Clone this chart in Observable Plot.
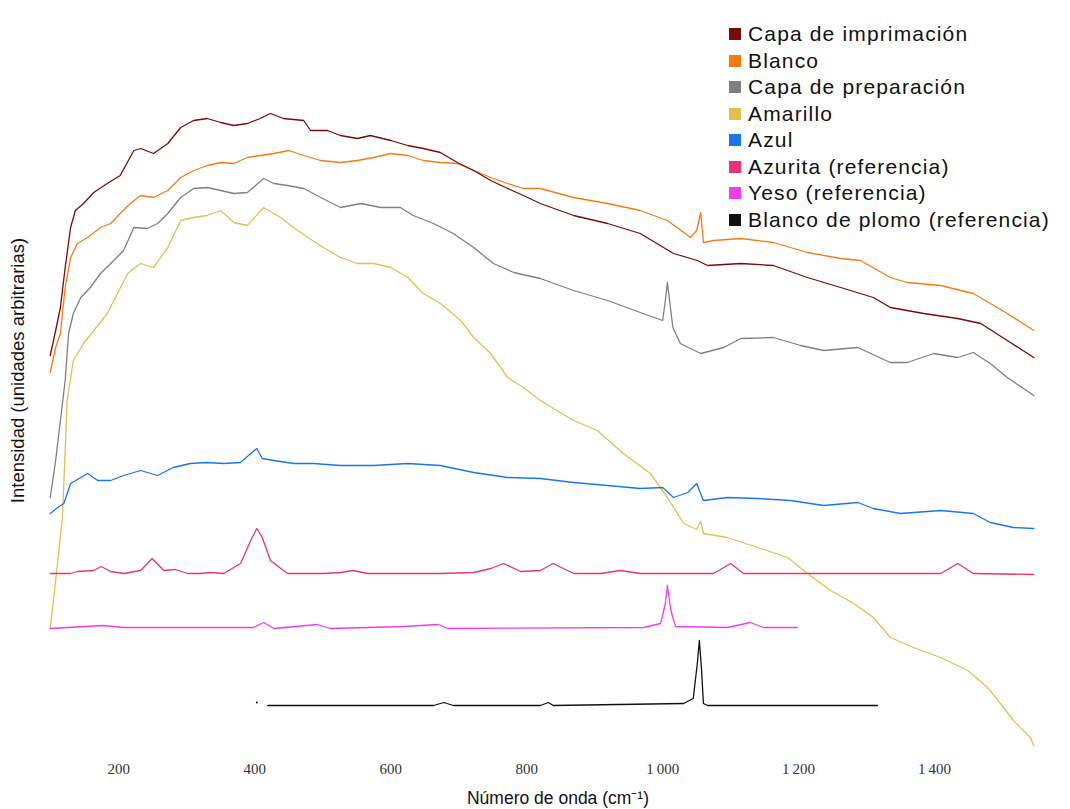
<!DOCTYPE html>
<html>
<head>
<meta charset="utf-8">
<script src="https://cdn.jsdelivr.net/npm/d3@7"></script>
<script src="https://cdn.jsdelivr.net/npm/@observablehq/plot@0.6"></script>
<style>
  html, body { margin: 0; padding: 0; background: #fff; }
  #wrap { position: relative; width: 1070px; height: 809px; }
  #legend { position: absolute; left: 729px; top: 21px; font-family: "Liberation Sans", Arial, sans-serif; font-size: 21px; letter-spacing: 1.15px; color: #111; }
  #legend .row { height: 26.5px; display: flex; align-items: center; white-space: nowrap; }
  #legend .sw { width: 12px; height: 12px; margin-right: 7px; display: inline-block; }
</style>
</head>
<body>
<div id="wrap"><div id="legend"></div></div>
<script>
// ---- data (wavenumber cm-1, arbitrary intensity) ----
const xTicks = [200, 400, 600, 800, 1000, 1200, 1400];

const seriesNames = [
  "Capa de imprimación", "Blanco", "Capa de preparación", "Amarillo",
  "Azul", "Azurita (referencia)", "Yeso (referencia)", "Blanco de plomo (referencia)"
];
const seriesColors = ["#7b0a0a", "#f57c14", "#808080", "#e3c04d", "#1877f0", "#e8337a", "#f23cf0", "#111111"];

const capaImprimacion = [[99,400],[107,425],[114,448],[121,488],[129,528],[136,545],[148,552],[163,563],[183,572],[202,580],[222,605],[232,607],[251,602],[272,612],[291,628],[310,635],[330,637],[350,633],[369,630],[389,632],[408,637],[423,642],[442,637],[472,635],[482,625],[507,625],[526,620],[551,617],[570,620],[600,615],[625,610],[648,607],[673,603],[698,593],[722,585],[747,575],[772,567],[795,560],[820,552],[869,540],[919,532],[967,522],[1016,502],[1051,495],[1066,490],[1115,492],[1163,490],[1213,478],[1262,468],[1310,458],[1335,448],[1384,442],[1434,437],[1468,432],[1507,415],[1546,398]];

const blanco = [[99,383],[107,408],[114,422],[121,468],[129,498],[139,512],[154,518],[173,528],[188,532],[202,542],[217,552],[232,560],[251,558],[272,565],[291,578],[310,585],[330,590],[350,593],[369,592],[389,598],[408,600],[428,602],[450,605],[472,600],[497,595],[526,593],[551,595],[575,598],[600,602],[625,600],[648,595],[673,593],[698,592],[722,585],[747,578],[772,572],[795,567],[820,567],[869,558],[919,552],[967,545],[1007,535],[1041,518],[1050,525],[1056,543],[1060,513],[1075,515],[1115,517],[1163,513],[1213,503],[1262,497],[1291,495],[1335,478],[1360,473],[1409,470],[1457,462],[1482,452],[1507,442],[1546,425]];

const capaPreparacion = [[99,258],[107,295],[114,335],[121,375],[126,422],[133,442],[144,458],[158,468],[173,482],[188,492],[207,505],[222,528],[242,527],[257,532],[272,542],[291,558],[310,567],[330,568],[350,565],[369,562],[389,563],[413,577],[428,572],[448,570],[472,567],[497,558],[526,548],[556,552],[585,548],[614,548],[633,540],[663,532],[692,522],[722,508],[751,492],[781,483],[820,477],[869,465],[919,455],[967,443],[1000,435],[1004,455],[1007,473],[1012,445],[1015,428],[1026,412],[1056,402],[1090,408],[1115,417],[1163,418],[1203,410],[1237,405],[1287,408],[1335,393],[1360,393],[1399,402],[1434,398],[1457,403],[1482,392],[1507,378],[1546,360]];

const amarillo = [[99,127],[107,175],[117,238],[124,355],[133,395],[148,412],[163,425],[183,442],[198,462],[213,482],[232,492],[251,488],[272,508],[291,535],[310,538],[330,540],[350,545],[369,533],[389,530],[413,548],[438,538],[457,528],[478,518],[501,508],[526,498],[551,492],[575,492],[600,488],[625,478],[648,462],[673,452],[703,435],[722,418],[747,402],[772,378],[795,368],[820,355],[869,335],[904,325],[942,302],[982,282],[1007,258],[1031,232],[1050,226],[1056,234],[1060,222],[1095,218],[1140,208],[1184,198],[1213,182],[1247,165],[1281,152],[1310,138],[1335,118],[1369,108],[1409,98],[1449,85],[1478,68],[1497,52],[1516,35],[1541,18],[1546,10]];

const azul = [[99,242],[110,248],[119,252],[129,272],[144,278],[154,282],[169,275],[188,275],[207,280],[232,285],[257,280],[280,288],[305,292],[330,293],[354,292],[379,293],[394,302],[403,307],[411,297],[428,295],[457,292],[486,292],[526,290],[575,290],[625,292],[673,290],[722,283],[772,278],[820,277],[869,273],[919,270],[967,267],[1000,268],[1016,258],[1037,263],[1050,272],[1060,255],[1095,258],[1140,257],[1188,255],[1237,250],[1287,253],[1310,247],[1350,242],[1409,245],[1457,242],[1482,233],[1516,228],[1546,227]];

const azurita = [[99,182],[129,182],[139,184],[163,185],[174,189],[188,184],[207,182],[232,185],[249,197],[266,185],[283,186],[301,182],[320,182],[335,183],[354,182],[379,192],[394,215],[403,227],[411,218],[423,195],[448,182],[501,182],[526,183],[544,185],[566,182],[673,182],[722,183],[747,187],[766,192],[791,184],[820,185],[839,192],[869,182],[909,182],[938,185],[967,182],[1075,182],[1100,192],[1119,182],[1409,182],[1434,192],[1457,182],[1546,181]];

const yeso = [[99,127],[124,128],[177,130],[207,128],[398,128],[413,133],[428,127],[492,131],[511,127],[619,129],[670,131],[684,127],[972,128],[997,132],[1004,152],[1007,170],[1012,145],[1019,129],[1095,128],[1129,133],[1148,128],[1198,128]];

const blancoPlomo = [[419,50],[663,50],[678,53],[692,50],[820,50],[832,53],[839,50],[1031,52],[1045,57],[1051,92],[1054,115],[1057,88],[1060,52],[1066,50],[1316,50]];
const blancoPlomoDot = [[403,53]];

const allSeries = [capaImprimacion, blanco, capaPreparacion, amarillo, azul, azurita, yeso, blancoPlomo];
const drawOrder = [3, 6, 5, 7, 4, 2, 1, 0];

const fmt = d => d >= 1000 ? d3.format(",")(d).replace(",", "\u2009") : String(d);

const plot = Plot.plot({
  width: 1070,
  height: 809,
  marginLeft: 47,
  marginRight: 34,
  marginTop: 35,
  marginBottom: 54,
  style: { fontFamily: "Liberation Sans, Arial, sans-serif", background: "#fff" },
  x: { domain: [95, 1550], axis: null },
  y: { domain: [0, 720], axis: null },
  marks: [
    ...drawOrder.map(i => Plot.line(allSeries[i], {
      x: d => d[0], y: d => d[1], stroke: seriesColors[i], strokeWidth: 1.3, curve: "linear"
    })),
    Plot.dot(blancoPlomoDot, { x: d => d[0], y: d => d[1], r: 1, fill: "#111" }),
    Plot.axisX({
      ticks: xTicks, tickSize: 0, tickPadding: 8, tickFormat: fmt, label: null,
      fontFamily: "Liberation Serif, serif", fontSize: 15, fill: "#333"
    }),
    Plot.text(["Número de onda (cm\u207B\u00B9)"], {
      frameAnchor: "bottom", dx: 16, dy: 48, text: d => d,
      fontSize: 17.5, fill: "#111", textAnchor: "middle"
    }),
    Plot.text(["Intensidad (unidades arbitrarias)"], {
      frameAnchor: "left", dx: -29, dy: -25, rotate: -90, text: d => d,
      fontSize: 18.5, fill: "#111", textAnchor: "middle"
    })
  ]
});
document.getElementById("wrap").prepend(plot);

const legend = document.getElementById("legend");
seriesNames.forEach((name, i) => {
  const row = document.createElement("div");
  row.className = "row";
  const sw = document.createElement("span");
  sw.className = "sw";
  sw.style.background = seriesColors[i];
  row.appendChild(sw);
  row.appendChild(document.createTextNode(name));
  legend.appendChild(row);
});
</script>
</body>
</html>
